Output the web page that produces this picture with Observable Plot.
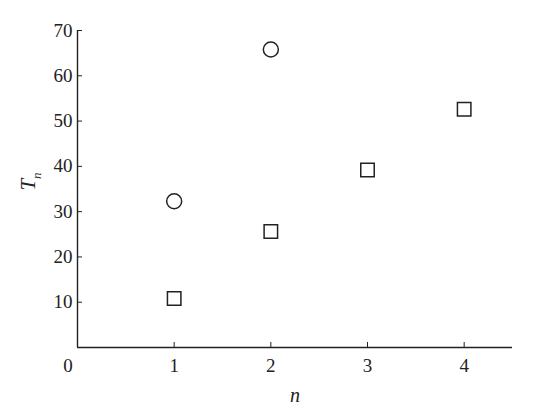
<!DOCTYPE html>
<html>
<head>
<meta charset="utf-8">
<script src="https://cdn.jsdelivr.net/npm/d3@7"></script>
<script src="https://cdn.jsdelivr.net/npm/@observablehq/plot@0.6"></script>
<style>
  html, body { margin: 0; padding: 0; background: #fff; }
</style>
</head>
<body>
<div id="chart"></div>
<script>
// Series: circles and squares
const circleN = [1, 2];
const circleT = [32.3, 65.8];
const squareN = [1, 2, 3, 4];
const squareT = [10.8, 25.6, 39.2, 52.6];
const xTicks = [1, 2, 3, 4];
const yTicks = [10, 20, 30, 40, 50, 60, 70];

const circles = circleN.map((n, i) => ({n, T: circleT[i]}));
const squares = squareN.map((n, i) => ({n, T: squareT[i]}));

const ink = "#222";
const font = "Liberation Serif, Times New Roman, serif";

const chart = Plot.plot({
  width: 534,
  height: 411,
  marginLeft: 77,
  marginRight: 22,
  marginTop: 30,
  marginBottom: 64,
  style: {fontFamily: font, fontSize: "19px", color: ink, background: "#fff"},
  x: {domain: [0, 4.5]},
  y: {domain: [0, 70]},
  marks: [
    Plot.axisX({ticks: xTicks, tickSize: -5, tickPadding: 16, label: null, tickFormat: d => String(d), stroke: ink, fill: ink}),
    Plot.axisY({ticks: yTicks, tickSize: -5, tickPadding: 10, label: null, tickFormat: d => String(d), stroke: ink, fill: ink}),
    Plot.ruleX([0], {stroke: ink, strokeWidth: 1.4}),
    Plot.ruleY([0], {stroke: ink, strokeWidth: 1.4}),
    Plot.text(["0"], {x: 0, y: 0, text: d => d, dx: -9.5, dy: 18, fill: ink, fontSize: 19, lineAnchor: "middle"}),
    Plot.text(["n"], {frameAnchor: "bottom", text: d => d, dy: 48, fill: ink, fontSize: 20, fontStyle: "italic", lineAnchor: "middle"}),
    Plot.text(["T"], {frameAnchor: "left", text: d => d, dx: -49, dy: 1.5, rotate: -90, fill: ink, fontSize: 21, fontStyle: "italic", lineAnchor: "middle"}),
    Plot.text(["n"], {frameAnchor: "left", text: d => d, dx: -41, dy: -10, rotate: -90, fill: ink, fontSize: 13, fontStyle: "italic", lineAnchor: "middle"}),
    Plot.dot(circles, {x: "n", y: "T", r: 7.5, symbol: "circle", stroke: ink, strokeWidth: 1.5, fill: "none"}),
    Plot.dot(squares, {x: "n", y: "T", r: 7.6, symbol: "square", stroke: ink, strokeWidth: 1.5, fill: "none"})
  ]
});
document.getElementById("chart").appendChild(chart);
</script>
</body>
</html>
